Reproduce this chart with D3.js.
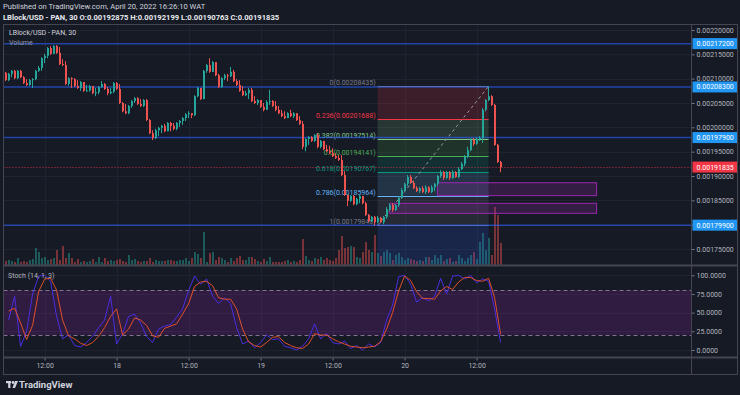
<!DOCTYPE html>
<html>
<head>
<meta charset="utf-8">
<script src="https://cdn.jsdelivr.net/npm/d3@7"></script>
<style>
  body { margin: 0; background: #161a25; }
  svg { display: block; font-family: Roboto, "DejaVu Sans", sans-serif; }
</style>
</head>
<body>
<script>
// ---- data (30 min candles, first one at 17 Apr 05:30) ----
const startTime = "2022-04-17T05:30";
const firstOpen = 0.002112;

const closes = [
  0.002097,0.002110,0.002116,0.002101,0.002116,0.002103,0.002091,0.002087,0.002097,0.002099,
  0.002116,0.002122,0.002142,0.002147,0.002163,0.002151,0.002167,0.002153,0.002130,0.002128,
  0.002089,0.002101,0.002099,0.002085,0.002081,0.002093,0.002075,0.002076,0.002085,0.002070,
  0.002072,0.002083,0.002089,0.002079,0.002070,0.002073,0.002091,0.002079,0.002050,0.002033,
  0.002029,0.002044,
  0.002054,0.002060,0.002048,0.002044,0.002056,0.002015,0.001988,0.001978,0.001994,0.001999,
  0.002003,0.001992,0.002009,0.002003,0.001997,0.002009,0.002013,0.002019,0.002027,0.002029,
  0.002025,0.002064,0.002081,0.002058,0.002116,0.002128,0.002114,0.002134,0.002107,0.002083,
  0.002101,0.002107,0.002105,0.002114,0.002095,0.002087,0.002075,0.002066,0.002070,0.002077,
  0.002054,
  0.002050,0.002056,0.002042,0.002036,0.002052,0.002054,0.002044,0.002036,0.002029,0.002023,
  0.002019,0.002029,0.002023,0.002029,0.002015,0.002007,0.001960,0.001976,0.001980,0.001972,
  0.001984,0.001960,0.001972,0.001955,0.001951,0.001947,0.001941,0.001937,0.001933,0.001902,
  0.001861,0.001849,0.001859,0.001842,0.001853,0.001859,0.001844,0.001820,0.001807,0.001816,
  0.001805,
  0.001814,0.001805,0.001816,0.001832,0.001840,0.001830,0.001840,0.001855,0.001871,0.001884,
  0.001898,0.001886,0.001875,0.001869,0.001875,0.001867,0.001877,0.001867,0.001877,0.001884,
  0.001900,0.001908,0.001896,0.001908,0.001896,0.001908,0.001898,0.001914,0.001925,0.001939,
  0.001953,0.001974,0.001966,0.001976,0.001978,0.002036,0.002056,0.002064,0.002046,0.001964,
  0.00192875,0.00191835
];

const highs = [
  0.002114,0.002112,0.002118,0.002118,0.002118,0.002118,0.002105,0.002099,0.002099,0.002101,
  0.002118,0.002126,0.002144,0.002151,0.002165,0.002167,0.002169,0.002169,0.002165,0.002140,
  0.002136,0.002103,0.002103,0.002101,0.002097,0.002095,0.002093,0.002087,0.002087,0.002085,
  0.002081,0.002085,0.002095,0.002091,0.002083,0.002081,0.002093,0.002093,0.002089,0.002052,
  0.002048,0.002046,
  0.002056,0.002062,0.002062,0.002058,0.002058,0.002058,0.002017,0.001994,0.001997,0.002001,
  0.002005,0.002007,0.002011,0.002011,0.002009,0.002011,0.002015,0.002021,0.002029,0.002033,
  0.002029,0.002066,0.002083,0.002081,0.002118,0.002130,0.002142,0.002136,0.002134,0.002110,
  0.002103,0.002110,0.002110,0.002124,0.002118,0.002099,0.002097,0.002085,0.002075,0.002081,
  0.002081,
  0.002064,0.002058,0.002056,0.002050,0.002056,0.002077,0.002056,0.002054,0.002044,0.002036,
  0.002033,0.002031,0.002036,0.002031,0.002029,0.002023,0.002013,0.001978,0.001982,0.001982,
  0.001986,0.001988,0.001974,0.001972,0.001964,0.001962,0.001957,0.001947,0.001943,0.001943,
  0.001910,0.001861,0.001861,0.001861,0.001855,0.001861,0.001859,0.001847,0.001822,0.001818,
  0.001818,
  0.001818,0.001816,0.001818,0.001836,0.001844,0.001844,0.001842,0.001859,0.001875,0.001886,
  0.001902,0.001902,0.001890,0.001879,0.001877,0.001879,0.001881,0.001879,0.001881,0.001886,
  0.001902,0.001912,0.001910,0.001910,0.001910,0.001912,0.001910,0.001918,0.001929,0.001943,
  0.001960,0.001978,0.001978,0.001980,0.001982,0.002040,0.002058,0.00208435,0.002066,0.002048,
  0.001966,0.001931
];

const lows = [
  0.002095,0.002095,0.002103,0.002099,0.002099,0.002101,0.002089,0.002085,0.002085,0.002081,
  0.002097,0.002114,0.002116,0.002132,0.002142,0.002149,0.002151,0.002151,0.002128,0.002126,
  0.002087,0.002085,0.002081,0.002083,0.002079,0.002075,0.002073,0.002073,0.002073,0.002068,
  0.002064,0.002068,0.002081,0.002077,0.002066,0.002068,0.002070,0.002077,0.002048,0.002031,
  0.002027,0.002027,
  0.002040,0.002050,0.002046,0.002042,0.002042,0.002013,0.001986,0.001974,0.001976,0.001982,
  0.001988,0.001990,0.001992,0.001992,0.001994,0.001994,0.002001,0.002005,0.002013,0.002019,
  0.002019,0.002023,0.002062,0.002056,0.002058,0.002112,0.002112,0.002114,0.002105,0.002081,
  0.002081,0.002097,0.002095,0.002103,0.002093,0.002085,0.002073,0.002064,0.002064,0.002058,
  0.002052,
  0.002048,0.002046,0.002040,0.002033,0.002036,0.002046,0.002042,0.002033,0.002027,0.002021,
  0.002017,0.002019,0.002021,0.002019,0.002013,0.002005,0.001955,0.001951,0.001964,0.001970,
  0.001970,0.001957,0.001957,0.001953,0.001949,0.001945,0.001939,0.001935,0.001931,0.001900,
  0.001859,0.001838,0.001847,0.001840,0.001840,0.001844,0.001842,0.001818,0.001805,0.001805,
  0.00179846,
  0.001803,0.001803,0.001801,0.001812,0.001828,0.001826,0.001828,0.001836,0.001853,0.001867,
  0.001879,0.001884,0.001873,0.001867,0.001865,0.001865,0.001863,0.001865,0.001865,0.001869,
  0.001879,0.001896,0.001892,0.001894,0.001892,0.001894,0.001896,0.001896,0.001912,0.001920,
  0.001937,0.001951,0.001962,0.001964,0.001972,0.001968,0.002033,0.002054,0.002044,0.001962,
  0.001927,0.00190763
];

const volumes = [
  4,5,4,3,7,3,4,3,5,6,17,13,7,8,5,6,7,15,5,19,7,12,7,3,6,3,4,3,4,6,3,8,3,7,4,5,4,5,6,4,3,10,
  5,6,4,3,4,4,7,3,5,4,4,4,5,5,4,4,5,5,7,4,7,13,11,7,33,3,12,13,5,8,7,5,3,7,4,7,9,5,5,8,8,
  6,4,3,6,4,8,3,3,3,3,4,5,3,4,3,5,26,9,5,4,7,6,8,5,7,5,4,7,15,29,17,18,19,18,8,7,13,23,15,13,30,
  12,9,13,15,12,5,10,12,8,5,7,6,5,4,5,4,8,8,5,10,7,10,4,6,7,3,4,10,7,4,7,10,13,6,23,32,15,27,10,58,50,22
];

// stochastic read every second candle (candle 1, 3, 5 ...)
const stochK = [
  40,72,5,25,75,99,100,92,45,15, 20,6,4,10,18,30,40,72,8,22,
  45,48,36,18,10,28,32,34,44,55, 80,99,88,95,72,62,70,62,30,8,
  12,3,10,20,14,15,5,3,0,5, 15,35,15,22,10,8,12,2,6,0,
  8,4,10,40,60,98,100,88,64,70, 66,72,96,75,99,100,95,100,90,95,
  92,55,10
];
const stochD = [
  52,56,36,14,33,78,95,96,80,40, 19,15,9,6,10,18,30,45,55,20,
  28,43,40,33,19,17,29,32,35,48, 62,85,91,92,86,70,68,68,55,28,
  11,6,4,10,17,18,10,6,3,2, 8,22,20,20,15,11,8,5,4,3,
  4,5,11,28,50,79,99,93,78,69, 69,68,79,85,81,91,97,97,93,92,
  96,70,21
];

const priceTicks = [0.00175, 0.0018, 0.00185, 0.0019, 0.00195, 0.002, 0.00205, 0.0021, 0.00215, 0.0022];
const stochTicks = [0, 25, 50, 75, 100];
const timeTicks = ["2022-04-17T12:00", "2022-04-18T00:00", "2022-04-18T12:00", "2022-04-19T00:00",
                   "2022-04-19T12:00", "2022-04-20T00:00", "2022-04-20T12:00"];
const timeLabels = ["12:00", "18", "12:00", "19", "12:00", "20", "12:00"];

const horizontalLines = [0.002172, 0.002083, 0.001979, 0.001799];
const lastPrice = 0.00191835;

const fibStart = "2022-04-19T19:30", fibEnd = "2022-04-20T14:00";
const fibLevels = [0, 0.236, 0.382, 0.5, 0.618, 0.786, 1, 1.618];
const fibPrices = [0.00208435, 0.00201688, 0.00197514, 0.00194141, 0.00190767, 0.00185964, 0.00179846, 0.00162178];
const fibColors = ["#787b86", "#f23645", "#81c784", "#4caf50", "#089981", "#64b5f6", "#787b86", "#2962ff"];

const boxes = [
  { t0: "2022-04-20T05:30", t1: "2022-04-21T08:00", p0: 0.0018862, p1: 0.00185964 },
  { t0: "2022-04-19T21:30", t1: "2022-04-21T08:00", p0: 0.0018439, p1: 0.0018233 }
];

// ---- layout ----
const W = 740, H = 395;
const left = 3.5, axisX = 691.5, right = 737.5;
const mainTop = 24.5, mainBottom = 265.5, stochBottom = 357.5, timeBottom = 374.5;
const up = "#26a69a", down = "#ef5350";
const textCol = "#b2b5be", gridCol = "#1f2330", frameCol = "#434651";

const parseTime = d3.timeParse("%Y-%m-%dT%H:%M");
const t0 = parseTime(startTime);

const candles = closes.map((c, i) => ({
  t: d3.timeMinute.offset(t0, 30 * i),
  o: i === 0 ? firstOpen : closes[i - 1],
  h: highs[i], l: lows[i], c: c, v: volumes[i]
}));

const x = d3.scaleTime()
  .domain([candles[0].t, candles[candles.length - 1].t])
  .range([5.6, 500.6]);
const y = d3.scaleLinear().domain([0.00175, 0.0022]).range([249, 30]);
const yVol = d3.scaleLinear().domain([0, 100]).range([265, 165]);
const yS = d3.scaleLinear().domain([0, 100]).range([350, 275.3]);

const svg = d3.select("body").append("svg").attr("width", W).attr("height", H);
svg.append("rect").attr("width", W).attr("height", H).attr("fill", "#161a25");

const defs = svg.append("defs");
defs.append("clipPath").attr("id", "mainClip").append("rect")
  .attr("x", left).attr("y", mainTop).attr("width", axisX - left).attr("height", mainBottom - mainTop);
defs.append("clipPath").attr("id", "stochClip").append("rect")
  .attr("x", left).attr("y", mainBottom).attr("width", axisX - left).attr("height", stochBottom - mainBottom);

// header
svg.append("text").attr("x", 3).attr("y", 9).attr("fill", "#d1d4dc")
  .attr("font-size", 7.6).text("Published on TradingView.com, April 20, 2022 16:26:10 WAT");
svg.append("text").attr("x", 3).attr("y", 19.5).attr("fill", "#e8eaef")
  .attr("font-size", 7.6).attr("font-weight", "bold")
  .text("LBlock/USD - PAN, 30 O:0.00192875 H:0.00192199 L:0.00190763 C:0.00191835");

// grid
const grid = svg.append("g").attr("stroke", gridCol).attr("stroke-width", 1);
priceTicks.forEach(p => {
  const yy = Math.round(y(p)) + 0.5;
  grid.append("line").attr("x1", left).attr("x2", axisX).attr("y1", yy).attr("y2", yy);
});
stochTicks.forEach(v => {
  const yy = Math.round(yS(v)) + 0.5;
  grid.append("line").attr("x1", left).attr("x2", axisX).attr("y1", yy).attr("y2", yy);
});
timeTicks.forEach(s => {
  const xx = Math.round(x(parseTime(s))) + 0.5;
  grid.append("line").attr("x1", xx).attr("x2", xx).attr("y1", mainTop).attr("y2", stochBottom);
});

// ---- main pane ----
const main = svg.append("g").attr("clip-path", "url(#mainClip)");

// volume
main.append("g").selectAll("rect").data(candles).join("rect")
  .attr("x", d => Math.round(x(d.t)) - 1)
  .attr("width", 2)
  .attr("y", d => yVol(d.v))
  .attr("height", d => yVol(0) - yVol(d.v))
  .attr("fill", d => d.c >= d.o ? "rgba(38,166,154,0.45)" : "rgba(239,83,80,0.45)");

// fibonacci retracement
const fx0 = x(parseTime(fibStart)), fx1 = x(parseTime(fibEnd));
const fib = main.append("g");
for (let k = 1; k < fibLevels.length; k++) {
  const ya = y(fibPrices[k - 1]), yb = y(fibPrices[k]);
  fib.append("rect").attr("x", fx0).attr("width", fx1 - fx0)
    .attr("y", ya).attr("height", yb - ya)
    .attr("fill", fibColors[k]).attr("fill-opacity", 0.17);
}
fibLevels.forEach((lv, k) => {
  const yy = Math.round(y(fibPrices[k])) + 0.5;
  fib.append("line").attr("x1", fx0).attr("x2", fx1).attr("y1", yy).attr("y2", yy)
    .attr("stroke", fibColors[k]).attr("stroke-width", 1);
  fib.append("text").attr("x", fx0 - 2).attr("y", yy - 2)
    .attr("text-anchor", "end").attr("font-size", 7).attr("fill", fibColors[k])
    .text(lv + "(" + d3.format(".8f")(fibPrices[k]) + ")");
});
fib.append("line")
  .attr("x1", fx0).attr("y1", y(fibPrices[6])).attr("x2", fx1).attr("y2", y(fibPrices[0]))
  .attr("stroke", "#9598a1").attr("stroke-dasharray", "3,3").attr("stroke-width", 1);

// rectangles
boxes.forEach(b => {
  const bx0 = x(parseTime(b.t0)), bx1 = x(parseTime(b.t1));
  main.append("rect").attr("x", bx0).attr("width", bx1 - bx0)
    .attr("y", y(b.p0)).attr("height", y(b.p1) - y(b.p0))
    .attr("fill", "rgba(156,39,176,0.22)").attr("stroke", "#9c27b0").attr("stroke-width", 1);
});

// horizontal levels
horizontalLines.forEach(p => {
  main.append("line").attr("x1", left).attr("x2", axisX)
    .attr("y1", y(p)).attr("y2", y(p))
    .attr("stroke", "#2962ff").attr("stroke-opacity", 0.6).attr("stroke-width", 1.5);
});

// last price line
main.append("line").attr("x1", left).attr("x2", axisX)
  .attr("y1", Math.round(y(lastPrice)) + 0.5).attr("y2", Math.round(y(lastPrice)) + 0.5)
  .attr("stroke", "#f23645").attr("stroke-dasharray", "1,2").attr("stroke-opacity", 0.8);

// candles
const cg = main.append("g");
cg.selectAll("line").data(candles).join("line")
  .attr("x1", d => Math.round(x(d.t)) - 0.5).attr("x2", d => Math.round(x(d.t)) - 0.5)
  .attr("y1", d => y(d.h)).attr("y2", d => y(d.l))
  .attr("stroke", d => d.c >= d.o ? up : down);
cg.selectAll("rect").data(candles).join("rect")
  .attr("x", d => Math.round(x(d.t)) - 1).attr("width", 2)
  .attr("y", d => y(Math.max(d.o, d.c)))
  .attr("height", d => Math.max(1, Math.abs(y(d.o) - y(d.c))))
  .attr("fill", d => d.c >= d.o ? up : down);

// pane titles
svg.append("text").attr("x", 9).attr("y", 35).attr("font-size", 7).attr("fill", "#d1d4dc")
  .text("LBlock/USD - PAN, 30");
svg.append("text").attr("x", 9).attr("y", 45).attr("font-size", 7).attr("fill", "#9598a1")
  .text("Volume");

// ---- stochastic pane ----
const stoch = svg.append("g").attr("clip-path", "url(#stochClip)");
stoch.append("rect").attr("x", left).attr("width", axisX - left)
  .attr("y", yS(80)).attr("height", yS(20) - yS(80))
  .attr("fill", "rgba(156,39,176,0.2)");
[80, 20].forEach(v => {
  stoch.append("line").attr("x1", left).attr("x2", axisX)
    .attr("y1", Math.round(yS(v)) + 0.5).attr("y2", Math.round(yS(v)) + 0.5)
    .attr("stroke", "#9b8aa6").attr("stroke-dasharray", "4,3").attr("stroke-opacity", 0.8);
});
const stochPts = arr => arr.map((v, k) => ({ t: candles[1 + 2 * k].t, v: v }));
const sline = d3.line().x(d => x(d.t)).y(d => yS(d.v));
stoch.append("path").datum(stochPts(stochK)).attr("d", sline)
  .attr("fill", "none").attr("stroke", "#4a2ee0").attr("stroke-width", 1);
stoch.append("path").datum(stochPts(stochD)).attr("d", sline)
  .attr("fill", "none").attr("stroke", "#e0502d").attr("stroke-width", 1);
svg.append("text").attr("x", 8).attr("y", 278).attr("font-size", 7).attr("fill", textCol)
  .text("Stoch (14, 1, 3)");

// ---- axes ----
const priceAxis = svg.append("g").attr("transform", `translate(${axisX},0)`)
  .call(d3.axisRight(y).tickValues(priceTicks).tickSize(3).tickPadding(2).tickFormat(d3.format(".8f")));
const stochAxis = svg.append("g").attr("transform", `translate(${axisX},0)`)
  .call(d3.axisRight(yS).tickValues(stochTicks).tickSize(3).tickPadding(2).tickFormat(d3.format(".4f")));
const timeAxis = svg.append("g").attr("transform", `translate(0,${stochBottom})`)
  .call(d3.axisBottom(x).tickValues(timeTicks.map(parseTime)).tickSize(3).tickPadding(3)
    .tickFormat((d, i) => timeLabels[i]));
[priceAxis, stochAxis, timeAxis].forEach(a => {
  a.select(".domain").remove();
  a.selectAll("line").attr("stroke", "#787b86");
  a.selectAll("text").attr("fill", textCol).attr("font-size", 7).attr("font-family", "Roboto");
});

// axis price labels
const tag = (p, col) => {
  const yy = y(p);
  svg.append("rect").attr("x", axisX + 1).attr("y", yy - 5.5).attr("width", right - axisX - 1).attr("height", 11)
    .attr("fill", col);
  svg.append("text").attr("x", axisX + 5).attr("y", yy + 2.5).attr("font-size", 7)
    .attr("fill", "#ffffff").text(d3.format(".8f")(p));
};
horizontalLines.forEach(p => tag(p, "#2196f3"));
tag(lastPrice, "#f23645");

// ---- frame ----
const fr = svg.append("g").attr("stroke", frameCol).attr("fill", "none");
fr.append("rect").attr("x", left).attr("y", mainTop).attr("width", right - left).attr("height", timeBottom - mainTop);
fr.append("line").attr("x1", axisX).attr("x2", axisX).attr("y1", mainTop).attr("y2", timeBottom);
fr.append("line").attr("x1", left).attr("x2", right).attr("y1", mainBottom).attr("y2", mainBottom).attr("stroke-width", 2);
fr.append("line").attr("x1", left).attr("x2", right).attr("y1", stochBottom).attr("y2", stochBottom).attr("stroke-width", 2);

// logo
const logo = svg.append("g").attr("transform", "translate(6,381)").attr("fill", "#d1d4dc");
logo.append("rect").attr("x", 0).attr("y", 0).attr("width", 5).attr("height", 2.2);
logo.append("rect").attr("x", 2.2).attr("y", 0).attr("width", 2.2).attr("height", 7);
logo.append("circle").attr("cx", 7).attr("cy", 1.5).attr("r", 1.4);
logo.append("path").attr("d", "M9,0 L12,0 L9,7 L6.5,7 Z");
svg.append("text").attr("x", 19).attr("y", 388).attr("font-size", 9.5).attr("font-weight", "bold")
  .attr("fill", "#d1d4dc").text("TradingView");
</script>
</body>
</html>
